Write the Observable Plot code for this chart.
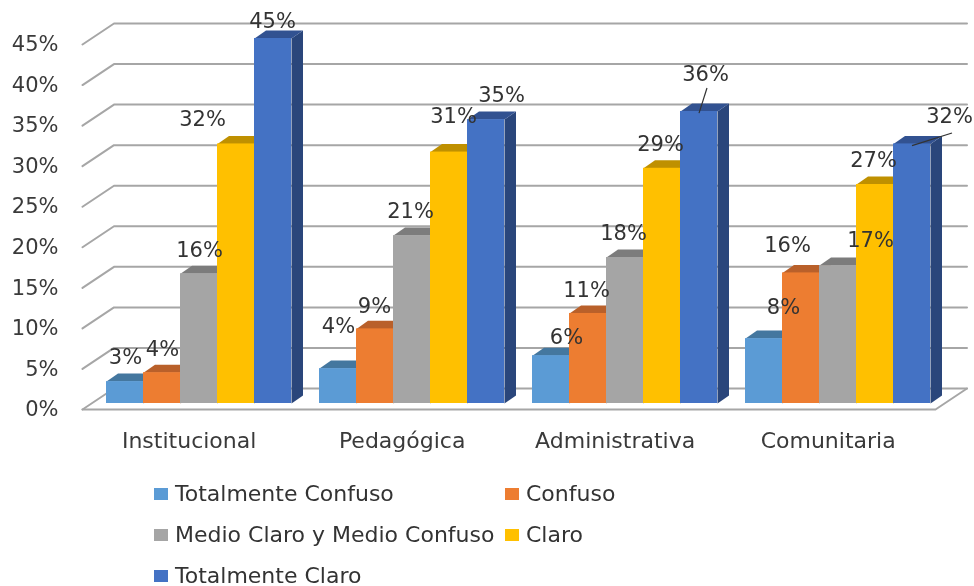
<!DOCTYPE html>
<html>
<head>
<meta charset="utf-8">
<script src="https://cdn.jsdelivr.net/npm/d3@7"></script>
<script src="https://cdn.jsdelivr.net/npm/@observablehq/plot@0.6"></script>
<style>
html,body{margin:0;padding:0;background:#fff;overflow:hidden;width:974px;height:586px}
body{font-family:"DejaVu Sans",sans-serif;color:#333}
svg{display:block;filter:blur(0.4px)}
#legend{display:grid;grid-template-columns:351px 200px;grid-auto-rows:41px;padding:3px 0 0 154px;font-size:22px;line-height:20px;white-space:nowrap;filter:blur(0.3px)}
#legend div{display:flex;align-items:center;height:41px}
#legend i{display:block;width:14px;height:12px;margin-right:7px;flex:none}
</style>
</head>
<body>
<div id="chart"></div>
<div id="legend"></div>
<script>
const categories = ["Institucional", "Pedagógica", "Administrativa", "Comunitaria"];
const seriesNames = ["Totalmente Confuso", "Confuso", "Medio Claro y Medio Confuso", "Claro", "Totalmente Claro"];
const totalmenteConfuso = [2.7, 4.3, 5.9, 8];
const confuso = [3.8, 9.2, 11.1, 16.1];
const medio = [16, 20.7, 18, 17];
const claro = [32, 31, 29, 27];
const totalmenteClaro = [45, 35, 36, 32];
const seriesValues = [totalmenteConfuso, confuso, medio, claro, totalmenteClaro];
const yTicks = [0, 5, 10, 15, 20, 25, 30, 35, 40, 45];

const frontColors = ["#5b9bd5", "#ed7d31", "#a5a5a5", "#ffc000", "#4472c4"];
const topColors = ["#44779f", "#b9602a", "#7c7c7c", "#bf9000", "#325291"];
const sideColors = ["#3b6a94", "#a0521f", "#6a6a6a", "#a67d00", "#2a467b"];

// Label offsets from each bar's top (px), by category then series
const labelOffsets = [
  [[0.5,-24],[0.5,-23],[0.5,-23],[-33.5,-24.5],[-0.5,-17]],
  [[0.5,-42],[-0.5,-23],[-1.5,-24],[4.5,-36],[15.5,-24]],
  [[15.5,-18],[-1.5,-23],[-1.5,-24],[-1.5,-24],[6.5,-37]],
  [[19.5,-31],[-13.5,-28],[32.5,-25],[-1.5,-24],[37.5,-28]]
];

// 3D geometry, in scale units
const barW = 37 / 213, barBase = 0.74;
const barDx = 11.5 / 213, barDy = 8 / 8.11;
const wallDx = 31.5 / 213, wallDy = 21 / 8.11;
const floorX0 = -24 / 213, floorX1 = 829 / 213;

const bars = categories.flatMap((c, i) => seriesValues.map((vals, j) => ({
  i, j, value: vals[i],
  x1: i + j * barW, x2: i + (j + 1) * barW,
  top: vals[i] + barBase,
  dx: labelOffsets[i][j][0], dy: labelOffsets[i][j][1]
})));

const topFaces = bars.flatMap((b, k) => [
  [b.x1, b.top], [b.x2, b.top], [b.x2 + barDx, b.top + barDy], [b.x1 + barDx, b.top + barDy]
].map(([x, y]) => ({x, y, id: k, fill: topColors[b.j]})));

const sideFaces = bars.flatMap((b, k) => [
  [b.x2, barBase], [b.x2, b.top], [b.x2 + barDx, b.top + barDy], [b.x2 + barDx, barBase + barDy]
].map(([x, y]) => ({x, y, id: k, fill: sideColors[b.j]})));

const gridPaths = yTicks.flatMap(v => [
  {x: floorX0, y: v, id: v},
  {x: floorX0 + wallDx, y: v + wallDy, id: v},
  {x: floorX1 + wallDx, y: v + wallDy, id: v}
]);
const floorPath = [
  {x: floorX0, y: 0}, {x: floorX1, y: 0}, {x: floorX1 + wallDx, y: wallDy}
];

const leaders = [
  {i: 2, j: 4, ox: 8 / 213, oy: 2.9},
  {i: 3, j: 4, ox: 40 / 213, oy: 1.35}
].map(l => {
  const b = bars.find(d => d.i === l.i && d.j === l.j);
  const x = (b.x1 + b.x2) / 2;
  return {x1: x, y1: b.top - 0.2, x2: x + l.ox, y2: b.top + l.oy};
});

const ink = "#3a3a3a";
const chart = Plot.plot({
  width: 974,
  height: 470,
  marginLeft: 82,
  marginRight: 0,
  marginTop: 0,
  marginBottom: 61,
  style: {fontFamily: '"DejaVu Sans", sans-serif', background: "#fff", overflow: "visible"},
  x: {domain: [0, 4], range: [106, 958]},
  y: {domain: [0, 45], range: [409, 44]},
  color: {type: "identity"},
  marks: [
    Plot.line(gridPaths, {x: "x", y: "y", z: "id", stroke: "#a6a6a6", strokeWidth: 2, curve: "linear"}),
    Plot.line(floorPath, {x: "x", y: "y", stroke: "#a6a6a6", strokeWidth: 2, curve: "linear"}),
    Plot.line(sideFaces, {x: "x", y: "y", z: "id", fill: "fill", stroke: "none", curve: "linear"}),
    Plot.line(topFaces, {x: "x", y: "y", z: "id", fill: "fill", stroke: "none", curve: "linear"}),
    Plot.rect(bars, {x1: "x1", x2: "x2", y1: barBase, y2: "top", fill: d => frontColors[d.j]}),
    Plot.axisY({ticks: yTicks, tickSize: 0, tickPadding: 24, tickFormat: d => d + "%", label: null, fontSize: 21, fill: ink}),
    Plot.axisX({ticks: categories.map((c, i) => i + 0.388), tickSize: 0, tickPadding: 23,
      tickFormat: d => categories[Math.floor(d)], label: null, fontSize: 22, fill: ink}),
    Plot.link(leaders, {x1: "x1", y1: "y1", x2: "x2", y2: "y2", stroke: "#333", strokeWidth: 1.2}),
    ...bars.map(b => Plot.text([b], {
      x: d => (d.x1 + d.x2) / 2, y: "top",
      text: d => Math.round(d.value) + "%",
      dx: b.dx, dy: b.dy, fontSize: 21, fill: "#333"
    }))
  ]
});
document.getElementById("chart").append(chart);

const legend = document.getElementById("legend");
seriesNames.forEach((name, j) => {
  const row = document.createElement("div");
  const sw = document.createElement("i");
  sw.style.background = frontColors[j];
  row.append(sw, document.createTextNode(name));
  legend.append(row);
});
</script>
</body>
</html>
